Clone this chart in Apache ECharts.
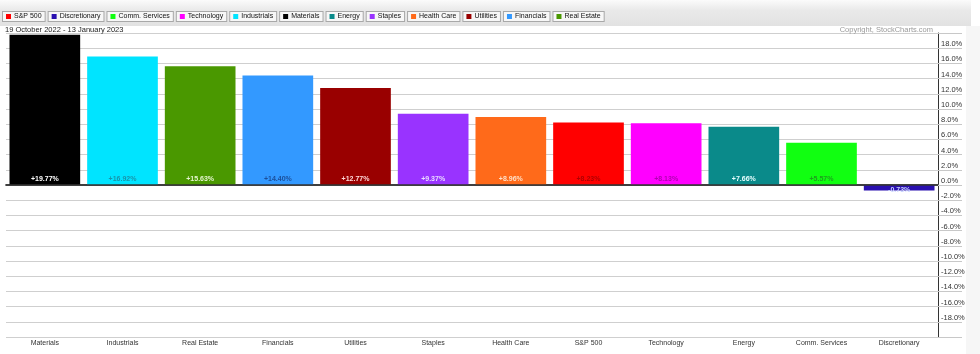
<!DOCTYPE html>
<html>
<head>
<meta charset="utf-8">
<script src="https://cdn.jsdelivr.net/npm/echarts@6/dist/echarts.min.js"></script>
<style>
  html, body { margin: 0; padding: 0; background: #fff; }
  #perf-chart { width: 980px; height: 354px; }
</style>
</head>
<body>
<div id="perf-chart"></div>
<script>
// sector performance, sorted as on the chart
var categories = ['Materials', 'Industrials', 'Real Estate', 'Financials', 'Utilities', 'Staples',
                  'Health Care', 'S&P 500', 'Technology', 'Energy', 'Comm. Services', 'Discretionary'];
var values = [19.77, 16.92, 15.63, 14.40, 12.77, 9.37, 8.96, 8.23, 8.13, 7.66, 5.57, -0.73];
var legendOrder = ['S&P 500', 'Discretionary', 'Comm. Services', 'Technology', 'Industrials', 'Materials',
                   'Energy', 'Staples', 'Health Care', 'Utilities', 'Financials', 'Real Estate'];

var barColors = {
  'Materials': '#000000', 'Industrials': '#00e4ff', 'Real Estate': '#4a9800', 'Financials': '#3399ff',
  'Utilities': '#990000', 'Staples': '#9933ff', 'Health Care': '#ff6a1a', 'S&P 500': '#ff0000',
  'Technology': '#ff00ff', 'Energy': '#0a8a8a', 'Comm. Services': '#11ff11', 'Discretionary': '#2a10b0'
};
var labelColors = {
  'Materials': '#ffffff', 'Industrials': '#1795aa', 'Real Estate': '#e6f5d0', 'Financials': '#1b4f9a',
  'Utilities': '#ffd8d8', 'Staples': '#eadcff', 'Health Care': '#ffe0c8', 'S&P 500': '#b00000',
  'Technology': '#b000b0', 'Energy': '#e8ffff', 'Comm. Services': '#1fa01f', 'Discretionary': '#c8d4ff'
};

function pct(v) {
  return (v >= 0 ? '+' : '') + v.toFixed(2) + '%';
}

// one series per sector so every sector gets a legend entry
var series = categories.map(function (name, i) {
  var data = categories.map(function (c, j) { return j === i ? values[i] : '-'; });
  var s = {
    name: name,
    type: 'bar',
    stack: 'perf',
    barCategoryGap: '9%',
    data: data,
    itemStyle: { color: barColors[name] },
    label: {
      show: true,
      position: values[i] >= 0 ? 'insideBottom' : 'insideTop',
      distance: 2,
      color: labelColors[name],
      fontSize: 7,
      fontWeight: 'bold',
      fontFamily: 'Liberation Sans',
      formatter: function (p) { return pct(p.value); }
    }
  };
  if (i === 0) {
    s.markLine = {
      silent: true,
      symbol: 'none',
      label: { show: false },
      lineStyle: { color: '#333', width: 1.5, type: 'solid' },
      data: [{ yAxis: 0 }]
    };
  }
  return s;
});

var rich = {};
legendOrder.forEach(function (name, i) {
  rich['m' + i] = { width: 5, height: 5, backgroundColor: barColors[name] };
  rich['t' + i] = { fontSize: 7, color: '#111', fontFamily: 'Liberation Sans', padding: [0, 0, 0, 3] };
});

var option = {
  backgroundColor: '#ffffff',
  animation: false,
  graphic: [
    {
      type: 'rect', left: 0, top: 0, z: -10,
      shape: { width: 971, height: 26 },
      style: {
        fill: new echarts.graphic.LinearGradient(0, 0, 0, 1, [
          { offset: 0, color: '#fbfbfb' }, { offset: 0.4, color: '#e9e9e9' }, { offset: 1, color: '#e2e2e2' }
        ])
      }
    },
    {
      type: 'rect', left: 966, top: 26, z: -10,
      shape: { width: 14, height: 328 },
      style: { fill: '#f6f6f6' }
    }
  ],
  title: [
    {
      text: '19 October 2022 - 13 January 2023',
      left: 2, top: 24, padding: [2, 3],
      textStyle: { fontSize: 7.5, fontWeight: 'normal', color: '#222', fontFamily: 'Liberation Sans' }
    },
    {
      text: 'Copyright, StockCharts.com',
      right: 44, top: 24, padding: [2, 3],
      textStyle: { fontSize: 7.5, fontWeight: 'normal', color: '#9a9a9a', fontFamily: 'Liberation Sans' }
    }
  ],
  legend: {
    data: legendOrder,
    left: -2, top: 11,
    padding: 0,
    icon: 'none',
    itemWidth: 0, itemHeight: 5,
    itemGap: -2,
    selectedMode: false,
    formatter: function (name) {
      var i = legendOrder.indexOf(name);
      return '{m' + i + '| }{t' + i + '|' + name + '}';
    },
    textStyle: {
      fontSize: 7,
      color: '#111',
      fontFamily: 'Liberation Sans',
      backgroundColor: '#f7f7f7',
      borderColor: '#a8a8a8',
      borderWidth: 1,
      padding: [1, 3, 1, 3],
      rich: rich
    }
  },
  grid: { left: 6, right: 42, top: 33, bottom: 17 },
  xAxis: {
    type: 'category',
    data: categories,
    axisLine: { show: true, lineStyle: { color: '#666', width: 2 } },
    axisTick: { show: false },
    axisLabel: { margin: 3, fontSize: 7, color: '#333', fontFamily: 'Liberation Sans', interval: 0 }
  },
  yAxis: {
    type: 'value',
    position: 'right',
    min: -20, max: 20, interval: 2,
    axisLine: { show: true, lineStyle: { color: '#333', width: 1 } },
    axisTick: { show: true, length: 24, lineStyle: { color: '#c8c8c8' } },
    splitLine: { show: true, lineStyle: { color: '#cfcfcf', width: 1 } },
    axisLabel: {
      margin: 3,
      fontSize: 7.5,
      color: '#333',
      fontFamily: 'Liberation Sans',
      verticalAlign: 'bottom',
      align: 'left',
      formatter: function (v) {
        if (Math.abs(v) >= 20) return '';
        return v.toFixed(1) + '%';
      }
    }
  },
  series: series
};

var chart = echarts.init(document.getElementById('perf-chart'));
chart.setOption(option);
</script>
</body>
</html>
